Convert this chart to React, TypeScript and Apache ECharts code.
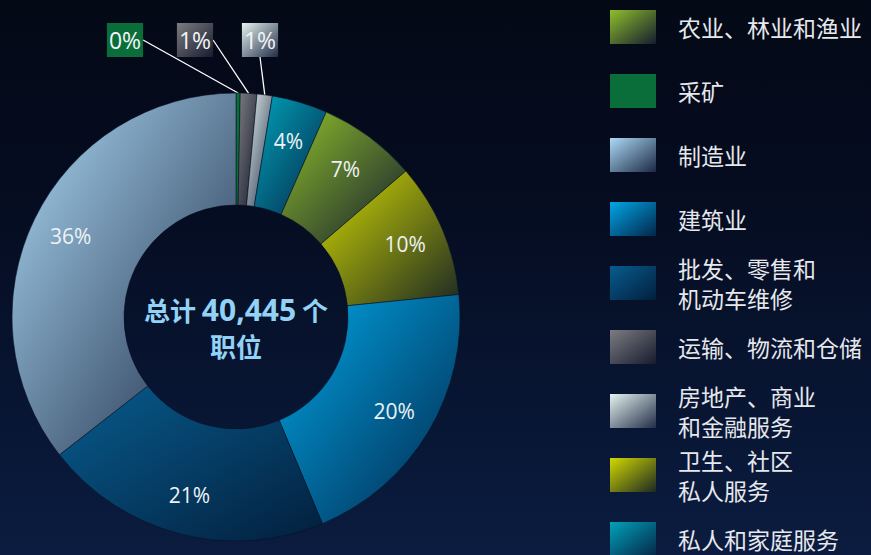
import React, { useEffect, useRef } from 'react';
import * as echarts from 'echarts';

// Slices in clockwise order starting at 12 o'clock
const categories = [
  '采矿',
  '运输、物流和仓储',
  '房地产、商业和金融服务',
  '私人和家庭服务',
  '农业、林业和渔业',
  '卫生、社区私人服务',
  '建筑业',
  '批发、零售和机动车维修',
  '制造业',
];
const jobs = [121, 485, 445, 1618, 2872, 3923, 8210, 8393, 14378];
const lightColors = ['#0a6e3a', '#7c7c80', '#e4f3ef', '#00a2ba', '#8fbf2a', '#d2d900', '#00a6e6', '#075c8e', '#acdaf6'];
const darkColors = ['#0a6e3a', '#161b2e', '#222d48', '#062748', '#141c30', '#1c2824', '#03264a', '#031f3d', '#1c2944'];

// Legend order and displayed text
const legendOrder = [
  '农业、林业和渔业',
  '采矿',
  '制造业',
  '建筑业',
  '批发、零售和机动车维修',
  '运输、物流和仓储',
  '房地产、商业和金融服务',
  '卫生、社区私人服务',
  '私人和家庭服务',
];
const legendText = [
  '农业、林业和渔业',
  '采矿',
  '制造业',
  '建筑业',
  '批发、零售和\n机动车维修',
  '运输、物流和仓储',
  '房地产、商业\n和金融服务',
  '卫生、社区\n私人服务',
  '私人和家庭服务',
];
const centerPrefix = '总计';
const centerSuffix = '个';
const centerLine2 = '职位';

export default function App() {
  const ref = useRef<HTMLDivElement>(null);

  useEffect(() => {
    document.body.style.margin = '0';
    if (!ref.current) return;
    const chart = echarts.init(ref.current, undefined, { renderer: 'svg' });

    const total = jobs.reduce((a, b) => a + b, 0);
    const pct = (v: number) => Math.round((v / total) * 100);
    const grad = (i: number) =>
      new echarts.graphic.LinearGradient(0, 0, 1, 1, [
        { offset: 0, color: lightColors[i] },
        { offset: 1, color: darkColors[i] },
      ]);

    const center = [236, 317];
    const smallIdx = jobs.map((v, i) => (pct(v) < 2 ? i : -1)).filter((i) => i >= 0);
    const calloutPos = [
      [125, 40],
      [195, 40],
      [260, 40],
    ];

    const legendTop0 = 27;
    const legendStep = 64;
    const lineH = 30;
    const legends = legendOrder.map((name, k) => {
      const lines = legendText[k].split('\n').length;
      const c = legendTop0 + legendStep * k;
      return {
        data: [name],
        orient: 'vertical',
        left: 610,
        top: c - (lines > 1 ? (lineH / 2) * lines : 17),
        padding: 0,
        itemWidth: 46,
        itemHeight: 34,
        icon: 'rect',
        selectedMode: false,
        itemStyle: { borderWidth: 0 },
        formatter: () => legendText[k],
        textStyle: {
          color: '#e6e8ec',
          fontSize: 23,
          lineHeight: lineH,
          fontFamily: 'Noto Sans CJK SC',
          padding: [0, 0, 0, 17],
        },
      };
    });

    chart.setOption({
      animation: false,
      legend: legends,
      graphic: [
        {
          type: 'text',
          x: center[0],
          y: center[1] + 10,
          style: {
            text: `{a|${centerPrefix} }{b|${total.toLocaleString('en-US')}}{a| ${centerSuffix}}\n{a|${centerLine2}}`,
            align: 'center',
            verticalAlign: 'middle',
            fill: '#92d2f6',
            rich: {
              a: { fontSize: 26, fontWeight: 'bold', fontFamily: 'Noto Sans CJK SC', fill: '#92d2f6', lineHeight: 36 },
              b: { fontSize: 30, fontWeight: 'bold', fontFamily: 'Noto Sans', fill: '#92d2f6', lineHeight: 36 },
            },
          },
        },
      ],
      series: [
        {
          type: 'pie',
          center,
          radius: [112, 224],
          startAngle: 90,
          clockwise: true,
          avoidLabelOverlap: false,
          emphasis: { disabled: true },
          itemStyle: { borderColor: 'rgba(8,16,34,0.7)', borderWidth: 0.8 },
          label: { show: false },
          labelLine: { show: false },
          labelLayout: (p: any) => {
            const k = smallIdx.indexOf(p.dataIndex);
            if (k < 0) return {};
            return { x: calloutPos[k][0], y: calloutPos[k][1], align: 'center', verticalAlign: 'middle' };
          },
          data: categories.map((name, i) => {
            const small = smallIdx.indexOf(i) >= 0;
            return {
              name,
              value: jobs[i],
              itemStyle: { color: grad(i) },
              label: small
                ? {
                    show: true,
                    position: 'outside',
                    formatter: () => `${pct(jobs[i])}%`,
                    color: '#f2f4f6',
                    fontSize: 23,
                    fontFamily: 'Open Sans',
                    lineHeight: 28,
                    padding: [3, 2],
                    backgroundColor: grad(i),
                  }
                : { show: false },
              labelLine: small
                ? { show: true, length: 10, length2: 0, lineStyle: { color: '#ffffff', width: 1.3 } }
                : { show: false },
            };
          }),
        },
        {
          type: 'pie',
          center,
          radius: [150, 212],
          startAngle: 90,
          clockwise: true,
          silent: true,
          avoidLabelOverlap: false,
          emphasis: { disabled: true },
          itemStyle: { color: 'rgba(0,0,0,0)' },
          label: {
            show: true,
            position: 'inside',
            color: '#eef2f6',
            fontSize: 21,
            fontFamily: 'Open Sans',
            formatter: (p: any) => `${pct(p.value)}%`,
          },
          labelLine: { show: false },
          data: categories.map((name, i) => ({
            name,
            value: jobs[i],
            label: { show: pct(jobs[i]) >= 2 },
          })),
        },
      ],
    });

    return () => chart.dispose();
  }, []);

  return (
    <div
      ref={ref}
      style={{
        width: 871,
        height: 555,
        background: 'linear-gradient(180deg, #040916 0%, #050c20 35%, #081634 75%, #0b1c40 100%)',
      }}
    />
  );
}
